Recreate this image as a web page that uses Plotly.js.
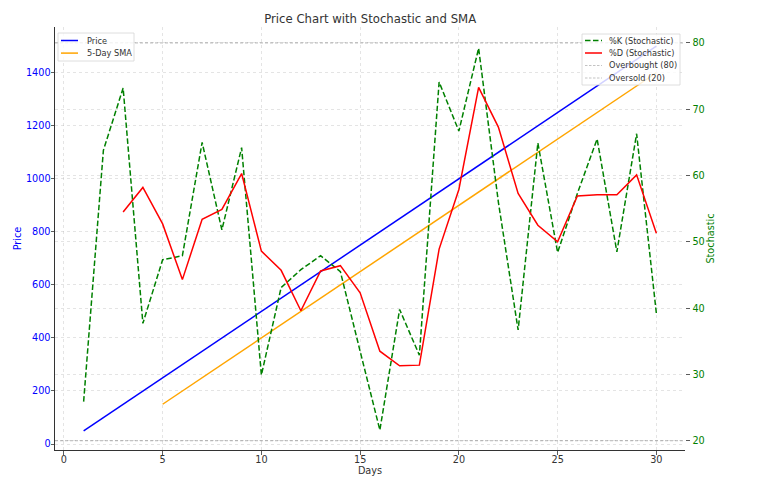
<!DOCTYPE html>
<html>
<head>
<meta charset="utf-8">
<script src="https://cdn.plot.ly/plotly-3.0.1.min.js"></script>
<style>html,body{margin:0;padding:0;background:#fff;}#chart{width:757px;height:478px;}</style>
</head>
<body>
<div id="chart"></div>
<script>
// ---- data ----
const days = [1,2,3,4,5,6,7,8,9,10,11,12,13,14,15,16,17,18,19,20,21,22,23,24,25,26,27,28,29,30];
const price = [50,100,150,200,250,300,350,400,450,500,550,600,650,700,750,800,850,900,950,1000,1050,1100,1150,1200,1250,1300,1350,1400,1450,1500];
const sma5 = [null,null,null,null,150,200,250,300,350,400,450,500,550,600,650,700,750,800,850,900,950,1000,1050,1100,1150,1200,1250,1300,1350,1400];
const stochK = [25.9,63.8,73.2,37.7,47.3,47.9,65.0,51.8,64.2,29.9,43.1,45.8,47.9,45.5,33.5,21.6,39.8,32.9,74.1,66.7,79.2,56.0,36.7,64.9,48.4,57.3,65.5,48.5,66.3,39.2];
const stochD = [null,null,54.5,58.2,52.7,44.3,53.4,54.9,60.3,48.6,45.7,39.6,45.6,46.4,42.3,33.5,31.3,31.4,48.9,57.9,73.3,67.3,57.3,52.5,50.0,56.9,57.1,57.1,60.1,51.3];
const overbought = 80;
const oversold = 20;
const xTicks = [0,5,10,15,20,25,30];
const priceTicks = [0,200,400,600,800,1000,1200,1400];
const stochTicks = [20,30,40,50,60,70,80];
const legendLeftNames = ['Price', '5-Day SMA'];
const legendRightNames = ['%K (Stochastic)', '%D (Stochastic)', 'Overbought (80)', 'Oversold (20)'];

const FONT = 'DejaVu Sans, Verdana, sans-serif';
const gridCol = 'rgba(176,176,176,0.42)';
const W = 757, H = 478;
const M = {l: 55, r: 72, t: 27, b: 28};
const PW = W - M.l - M.r, PH = H - M.t - M.b;
const px = x => (x - M.l) / PW;      // pixel -> paper x
const py = y => (H - M.b - y) / PH;  // pixel -> paper y

const styles = {
  'Price': {color: '#0000ff', width: 1.5},
  '5-Day SMA': {color: '#ffa500', width: 1.5},
  '%K (Stochastic)': {color: '#008000', width: 1.5, dash: '5.5px,2.5px'},
  '%D (Stochastic)': {color: '#ff0000', width: 1.5},
  'Overbought (80)': {color: 'rgba(128,128,128,0.6)', width: 0.8, dash: '2.5px,1.5px'},
  'Oversold (20)': {color: 'rgba(128,128,128,0.6)', width: 0.8, dash: '2.5px,1.5px'}
};

const traces = [
  {x: days, y: price, name: 'Price', type: 'scatter', mode: 'lines', line: styles['Price'], yaxis: 'y'},
  {x: days, y: sma5, name: '5-Day SMA', type: 'scatter', mode: 'lines', line: styles['5-Day SMA'], yaxis: 'y'},
  {x: days, y: stochK, name: '%K (Stochastic)', type: 'scatter', mode: 'lines', line: styles['%K (Stochastic)'], yaxis: 'y2'},
  {x: days, y: stochD, name: '%D (Stochastic)', type: 'scatter', mode: 'lines', line: styles['%D (Stochastic)'], yaxis: 'y2'}
];

const shapes = [
  {type: 'line', xref: 'paper', x0: 0, x1: 1, yref: 'y2', y0: overbought, y1: overbought,
   line: {color: 'rgba(128,128,128,0.75)', width: 0.8, dash: '3px,2px'}, layer: 'above'},
  {type: 'line', xref: 'paper', x0: 0, x1: 1, yref: 'y2', y0: oversold, y1: oversold,
   line: {color: 'rgba(128,128,128,0.75)', width: 0.8, dash: '3px,2px'}, layer: 'above'}
];
const annotations = [];

function addLegend(names, box, handleX0, handleX1, textX, rowY0, rowStep) {
  shapes.push({type: 'rect', xref: 'paper', yref: 'paper',
    x0: px(box[0]), x1: px(box[1]), y0: py(box[3]), y1: py(box[2]),
    fillcolor: 'rgba(255,255,255,0.82)', line: {color: '#d6d6d6', width: 0.8}, layer: 'above'});
  names.forEach((n, i) => {
    const yy = rowY0 + i * rowStep;
    shapes.push({type: 'line', xref: 'paper', yref: 'paper',
      x0: px(handleX0), x1: px(handleX1), y0: py(yy), y1: py(yy),
      line: styles[n], layer: 'above'});
    annotations.push({xref: 'paper', yref: 'paper', x: px(textX), y: py(yy),
      xanchor: 'left', yanchor: 'middle', showarrow: false, text: n,
      font: {family: FONT, size: 8.2, color: '#333'}});
  });
}
addLegend(legendLeftNames, [58, 134, 33, 61], 61, 78, 85, 40.5, 12.6);
addLegend(legendRightNames, [582, 680, 34, 85], 585, 602, 607, 40.5, 12.5);

const axisCommon = {
  ticks: 'outside', ticklen: 3.5, tickcolor: '#333', tickwidth: 0.8,
  showgrid: true, gridcolor: gridCol, griddash: 'dot', gridwidth: 0.8, zeroline: false
};

const layout = {
  width: W, height: H,
  margin: {l: M.l, r: M.r, t: M.t, b: M.b, pad: 0},
  paper_bgcolor: '#fff', plot_bgcolor: '#fff',
  font: {family: FONT, size: 9.7, color: '#333'},
  title: {text: 'Price Chart with Stochastic and SMA', x: 0.489, xanchor: 'center',
          y: 0.96, yanchor: 'middle', font: {family: FONT, size: 11.7, color: '#333'}},
  showlegend: false,
  xaxis: Object.assign({}, axisCommon, {
    range: [-0.45, 31.45], tickmode: 'array', tickvals: xTicks,
    showline: true, linecolor: '#333', linewidth: 1, ticklabelstandoff: -3,
    tickfont: {family: FONT, size: 9.7, color: '#333'},
    title: {text: 'Days', font: {family: FONT, size: 9.7, color: '#333'}, standoff: 3}
  }),
  yaxis: Object.assign({}, axisCommon, {
    range: [-22.5, 1572.5], tickmode: 'array', tickvals: priceTicks,
    showline: true, linecolor: '#333', linewidth: 1, ticklabelstandoff: -2,
    tickfont: {family: FONT, size: 9.7, color: '#0000ff'},
    title: {text: 'Price', font: {family: FONT, size: 9.7, color: '#0000ff'}, standoff: 2}
  }),
  yaxis2: Object.assign({}, axisCommon, {
    overlaying: 'y', side: 'right', anchor: 'x',
    range: [18.6, 82.4], tickmode: 'array', tickvals: stochTicks,
    showline: false, ticklabelstandoff: 1,
    tickfont: {family: FONT, size: 9.7, color: '#008000'},
    title: {text: 'Stochastic', font: {family: FONT, size: 9.7, color: '#008000'}, standoff: 1}
  }),
  shapes: shapes,
  annotations: annotations
};

Plotly.newPlot('chart', traces, layout, {displayModeBar: false, staticPlot: true});
</script>
</body>
</html>
